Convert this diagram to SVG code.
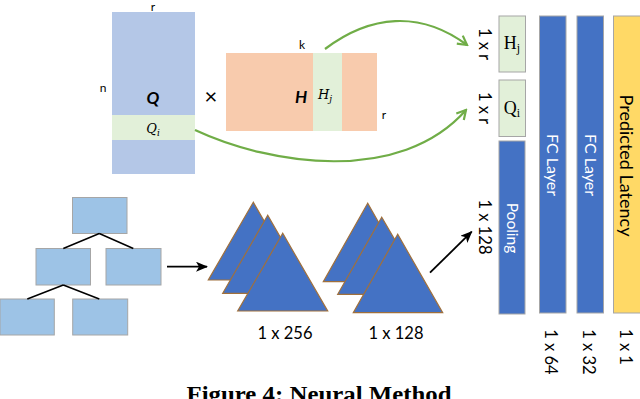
<svg xmlns="http://www.w3.org/2000/svg" width="640" height="399" viewBox="0 0 640 399">
<style>
.lbl{font-family:Lato,"Open Sans","Liberation Sans",sans-serif;fill:#000}
.sm{font-size:12px}
.dim{font-size:16.5px}
.w{fill:#fff}
.tb{fill:#9DC3E6;stroke:#A6A6A6;stroke-width:1}
.tri{fill:#4472C4;stroke:#A0703C;stroke-width:1.2;stroke-linejoin:miter}
.col{stroke:#A6A6A6;stroke-width:1}
.math{font-family:"DejaVu Serif","Liberation Serif",serif;font-style:italic;font-size:13px}
.mr{font-family:"Liberation Serif","DejaVu Serif",serif;font-size:18px}
</style>
<defs>
<marker id="gh" viewBox="0 0 12 12" refX="10" refY="6" markerWidth="12" markerHeight="12" markerUnits="userSpaceOnUse" orient="auto">
<path d="M1,1 L10,6 L1,11" fill="none" stroke="#70AD47" stroke-width="2.2"/>
</marker>
<marker id="bh" viewBox="0 0 12 10" refX="11" refY="5" markerWidth="12" markerHeight="10" markerUnits="userSpaceOnUse" orient="auto">
<path d="M0,0 L12,5 L0,10 L3,5 Z" fill="#000"/>
</marker>
</defs>
<rect width="640" height="399" fill="#fff"/>

<g id="Q">
<rect x="112" y="12" width="83" height="162" fill="#B4C7E7"/>
<rect x="112" y="115" width="83" height="25" fill="#E2F0D9"/>
<text class="lbl" x="153" y="104" text-anchor="middle" font-size="17" font-weight="bold" font-style="italic">Q</text>
<text class="math" x="153" y="133" text-anchor="middle">Q<tspan font-size="9" dy="3">i</tspan></text>
<text class="lbl sm" x="153" y="11" text-anchor="middle">r</text>
<text class="lbl sm" x="103" y="92" text-anchor="middle">n</text>
</g>
<text class="lbl" x="211" y="104" text-anchor="middle" font-size="22">×</text>
<g id="H">
<rect x="226" y="53" width="151" height="78" fill="#F8CBAD"/>
<rect x="313" y="53" width="29" height="78" fill="#E2F0D9"/>
<text class="lbl" x="301" y="103" text-anchor="middle" font-size="17" font-weight="bold" font-style="italic">H</text>
<text class="math" x="325" y="99" text-anchor="middle">H<tspan font-size="9" dy="3">j</tspan></text>
<text class="lbl sm" x="302" y="49" text-anchor="middle">k</text>
<text class="lbl sm" x="384" y="119" text-anchor="middle">r</text>
</g>

<g id="tree">
<rect class="tb" x="72.5" y="197.5" width="54.5" height="36"/>
<rect class="tb" x="36" y="248.5" width="54.5" height="36.5"/>
<rect class="tb" x="106" y="248.5" width="55" height="36.5"/>
<rect class="tb" x="0" y="299" width="54.3" height="36"/>
<rect class="tb" x="72.7" y="299" width="55" height="36"/>
<path d="M99.3,233.5 L63.3,248.5 M99.3,233.5 L133.3,248.5 M63.3,285 L27.3,299 M63.3,285 L99.3,299" stroke="#000" stroke-width="1.5" fill="none"/>
</g>

<g id="conv256">
<polygon class="tri" points="253.3,202.3 208.3,280 298.3,280"/>
<polygon class="tri" points="267.7,215.3 222.7,293.3 312.7,293.3"/>
<polygon class="tri" points="282.7,233.3 237.7,311 327.7,311"/>
<text class="lbl dim" x="285" y="339" text-anchor="middle">1 x 256</text>
</g>
<g id="conv128">
<polygon class="tri" points="367.7,203.3 323.3,281.7 412.3,281.7"/>
<polygon class="tri" points="381.7,217.3 337.7,294.3 426.7,294.3"/>
<polygon class="tri" points="397.7,234.3 353.3,312.7 442.7,312.7"/>
<text class="lbl dim" x="396" y="339" text-anchor="middle">1 x 128</text>
</g>

<g id="Hj">
<rect class="col" x="499" y="16" width="26.5" height="56" fill="#E2F0D9"/>
<text class="mr" x="512" y="49" text-anchor="middle">H<tspan font-size="12" dy="3">j</tspan></text>
<text class="lbl dim" transform="translate(479,44) rotate(90)" text-anchor="middle">1 x r</text>
</g>
<g id="Qi">
<rect class="col" x="499" y="80" width="26.5" height="56.5" fill="#E2F0D9"/>
<text class="mr" x="512" y="114" text-anchor="middle">Q<tspan font-size="12" dy="3">i</tspan></text>
<text class="lbl dim" transform="translate(479,108) rotate(90)" text-anchor="middle">1 x r</text>
</g>
<g id="pooling">
<rect class="col" x="499" y="141" width="26" height="173" fill="#4472C4"/>
<text class="lbl w" font-size="15.5" transform="translate(506.5,228) rotate(90)" text-anchor="middle">Pooling</text>
<text class="lbl dim" transform="translate(479,227) rotate(90)" text-anchor="middle">1 x 128</text>
</g>
<g id="fc1">
<rect class="col" x="539.5" y="16" width="26.5" height="297" fill="#4472C4"/>
<text class="lbl w" font-size="16" transform="translate(547,165) rotate(90)" text-anchor="middle">FC Layer</text>
<text class="lbl dim" transform="translate(545,352) rotate(90)" text-anchor="middle">1 x 64</text>
</g>
<g id="fc2">
<rect class="col" x="577" y="16" width="26.5" height="297" fill="#4472C4"/>
<text class="lbl w" font-size="16" transform="translate(584.5,165) rotate(90)" text-anchor="middle">FC Layer</text>
<text class="lbl dim" transform="translate(582.5,352) rotate(90)" text-anchor="middle">1 x 32</text>
</g>
<g id="latency">
<rect class="col" x="613.5" y="16" width="30" height="297" fill="#FFD966"/>
<text class="lbl" font-size="18" transform="translate(620,165.5) rotate(90)" text-anchor="middle">Predicted Latency</text>
<text class="lbl dim" transform="translate(620,347) rotate(90)" text-anchor="middle">1 x 1</text>
</g>

<g id="connectors" fill="none">
<path d="M325,49 C370,15 420,10 467,45" stroke="#70AD47" stroke-width="2.2" marker-end="url(#gh)"/>
<path d="M195,130 C270,165 400,185 466,110" stroke="#70AD47" stroke-width="2.2" marker-end="url(#gh)"/>
<path d="M167,266.7 L207,266.7" stroke="#000" stroke-width="1.8" marker-end="url(#bh)"/>
<path d="M430,272.7 L471.7,231.7" stroke="#000" stroke-width="1.8" marker-end="url(#bh)"/>
</g>

<text x="319" y="402" text-anchor="middle" font-family="Liberation Serif,serif" font-weight="bold" font-size="23" textLength="265" lengthAdjust="spacingAndGlyphs">Figure 4: Neural Method</text>
</svg>
